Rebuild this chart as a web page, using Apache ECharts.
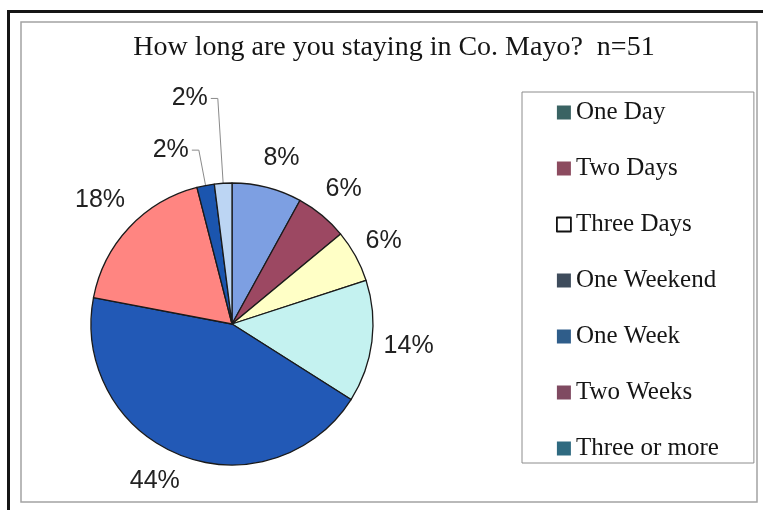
<!DOCTYPE html>
<html>
<head>
<meta charset="utf-8">
<script src="https://cdn.jsdelivr.net/npm/echarts@6/dist/echarts.min.js"></script>
<style>html,body{margin:0;padding:0;background:#fff}#c{width:763px;height:510px}</style>
</head>
<body>
<div id="c"></div>
<script>
const titleText = 'How long are you staying in Co. Mayo?  n=51';
const categories = ['One Day', 'Two Days', 'Three Days', 'One Weekend', 'One Week', 'Two Weeks', 'Three or more', 'Other'];
const legendNames = ['One Day', 'Two Days', 'Three Days', 'One Weekend', 'One Week', 'Two Weeks', 'Three or more'];
const percentages = [8, 6, 6, 14, 44, 18, 2, 2];

// styling (not data)
const sliceColors = ['#7d9fe2', '#9c4862', '#ffffc6', '#c4f2f0', '#2259b6', '#ff8581', '#1b55ae', '#bcd5f3'];
const legendColors = ['#3a6363', '#8c4b5f', '#ffffff', '#3e4c5c', '#2f5d8a', '#7f4a61', '#2f6a80'];
const labelLen = [30, 34, 32, 37, 28, 40, 36, 85];
const labelLen2 = [7, 0, 0, 0, 15, 0, 7, 7];
const leaderShown = [false, false, false, false, false, false, true, true];

const chart = echarts.init(document.getElementById('c'), null, { renderer: 'canvas' });

const pieData = categories.map((name, i) => ({
  name: name,
  value: percentages[i],
  itemStyle: { color: sliceColors[i] },
  labelLine: { show: leaderShown[i], length: labelLen[i], length2: labelLen2[i] }
}));

const legendData = legendNames.map((name, i) => ({
  name: name,
  icon: 'rect',
  itemStyle: i === 2
    ? { color: legendColors[i], borderColor: '#111', borderWidth: 1.8 }
    : { color: legendColors[i], borderWidth: 0 }
}));

chart.setOption({
  animation: false,
  backgroundColor: '#ffffff',
  title: {
    text: titleText,
    left: 389,
    top: 29,
    textAlign: 'center',
    textStyle: { fontFamily: 'Liberation Serif', fontSize: 28, fontWeight: 'normal', color: '#151515' }
  },
  legend: {
    orient: 'vertical',
    left: 522,
    top: 92,
    padding: [8, 35, 2, 34],
    itemGap: 31,
    itemWidth: 14,
    itemHeight: 14,
    borderColor: '#8c8c8c',
    borderWidth: 1,
    selectedMode: false,
    textStyle: { fontFamily: 'Liberation Serif', fontSize: 25, color: '#151515' },
    data: legendData
  },
  graphic: [
    { type: 'rect', shape: { x: 7, y: 10, width: 756, height: 3 }, style: { fill: '#151515' }, z: 0 },
    { type: 'rect', shape: { x: 7, y: 10, width: 3, height: 500 }, style: { fill: '#151515' }, z: 0 },
    { type: 'rect', shape: { x: 21, y: 22, width: 736, height: 480 }, style: { fill: 'none', stroke: '#a3a3a3', lineWidth: 1.5 }, z: 0 }
  ],
  series: [{
    type: 'pie',
    center: [232, 324],
    radius: 141,
    startAngle: 90,
    clockwise: true,
    avoidLabelOverlap: false,
    percentPrecision: 0,
    emphasis: { disabled: true },
    itemStyle: { borderColor: '#1a1a1a', borderWidth: 1.3 },
    label: {
      show: true,
      position: 'outside',
      formatter: '{d}%',
      fontFamily: 'Liberation Sans',
      fontSize: 25,
      color: '#222222',
      distanceToLabelLine: 3
    },
    labelLine: { show: false, length: 35, length2: 0, lineStyle: { color: '#8a8a8a', width: 1 } },
    labelLayout: function (p) {
      if (leaderShown[p.dataIndex]) return {};
      const w = p.labelRect.width;
      return { dx: p.align === 'left' ? -(w / 2 + 3) : (w / 2 + 3) };
    },
    data: pieData
  }]
});
</script>
</body>
</html>
